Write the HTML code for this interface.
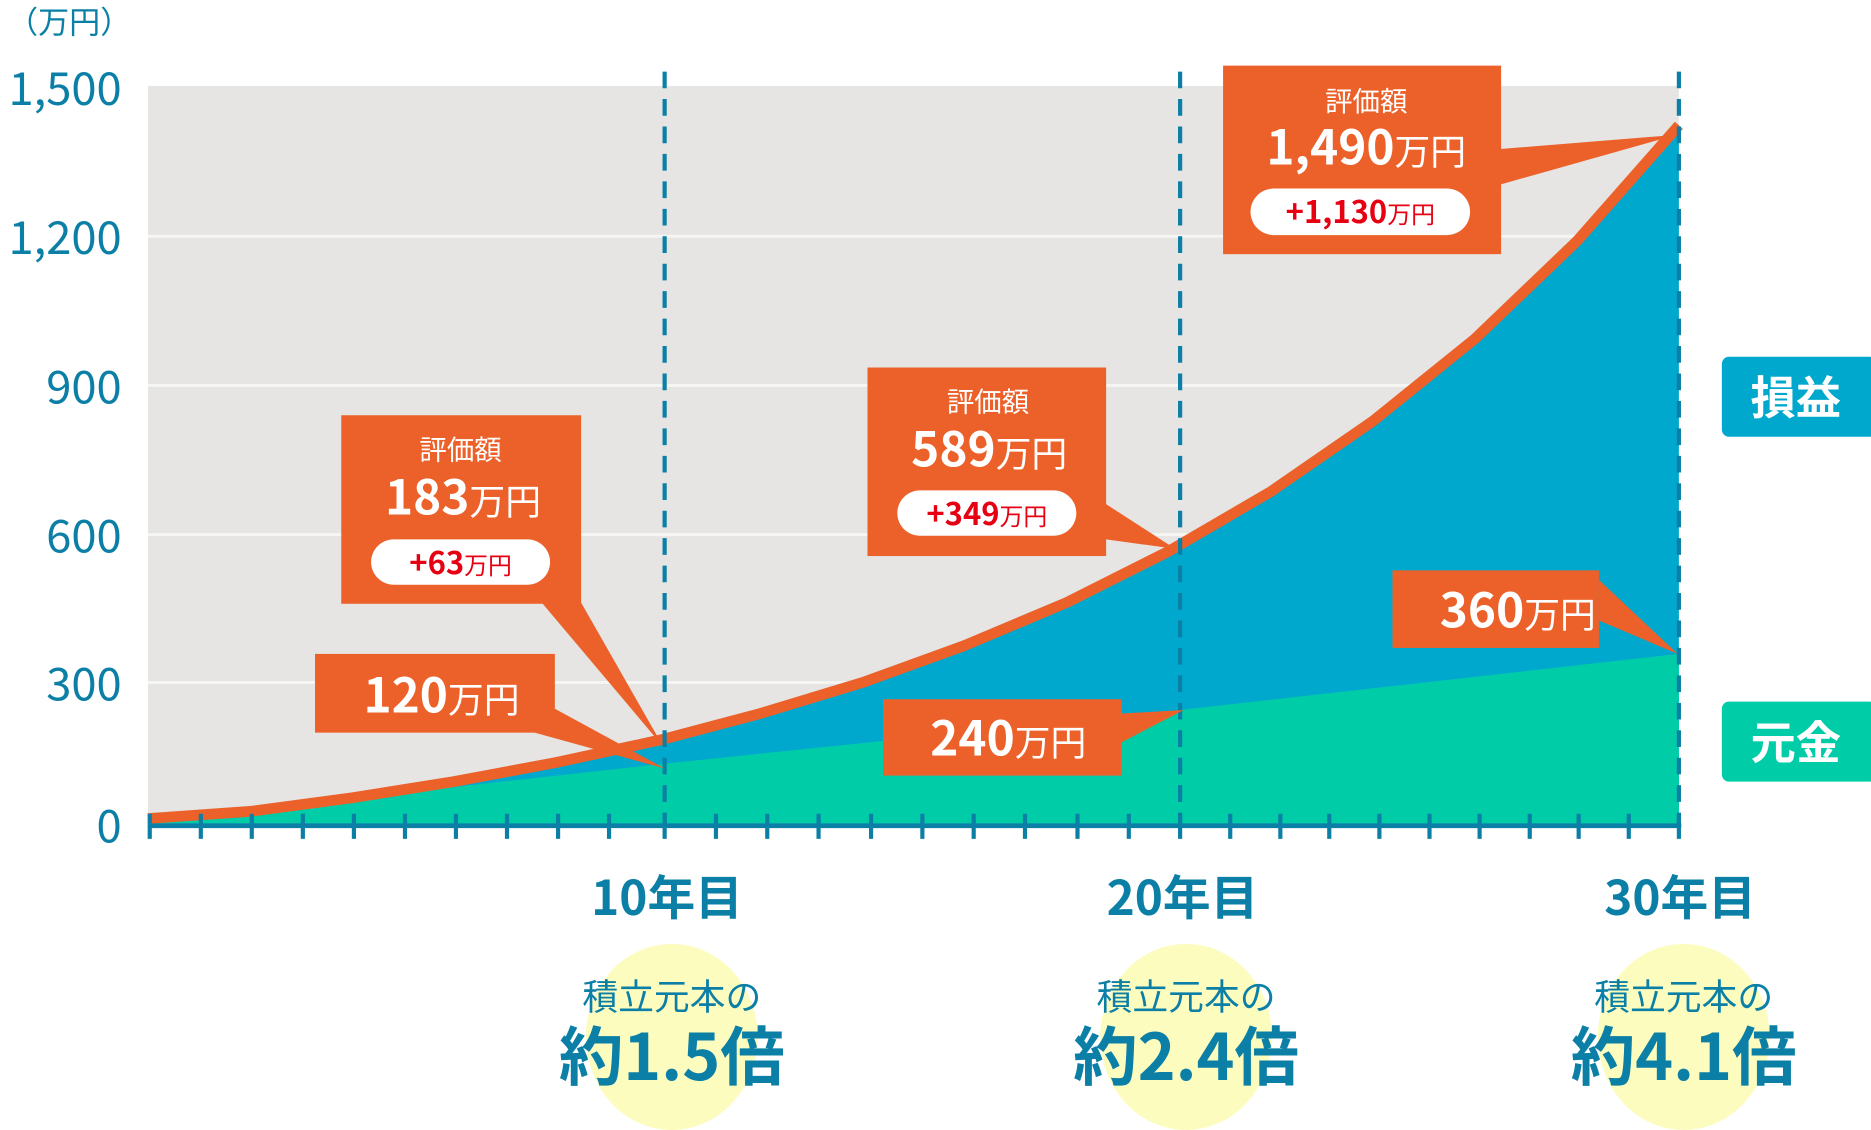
<!DOCTYPE html>
<html><head><meta charset="utf-8"><style>
html,body{margin:0;padding:0;background:#fff;}
svg{display:block;}
text{font-family:"Noto Sans CJK JP","Liberation Sans",sans-serif;}
</style></head><body>
<svg width="1871" height="1130" viewBox="0 0 1568 947" preserveAspectRatio="none" xmlns="http://www.w3.org/2000/svg">
<rect x="124" y="72" width="1283" height="618" fill="#e6e5e4"/>
<g stroke="#f5f5f4" stroke-width="2.5">
<line x1="124" y1="198" x2="1407" y2="198"/>
<line x1="124" y1="323" x2="1407" y2="323"/>
<line x1="124" y1="448" x2="1407" y2="448"/>
<line x1="124" y1="572" x2="1407" y2="572"/>
</g>
<g fill="#0b7fa5" font-size="38" text-anchor="end">
<text x="102" y="88">1,500</text>
<text x="102" y="213">1,200</text>
<text x="102" y="338">900</text>
<text x="102" y="463">600</text>
<text x="102" y="587">300</text>
<text x="102" y="706">0</text>
</g>
<text x="6" y="28" fill="#0b7fa5" font-size="26">（万円）</text>
<polygon fill="#00a8ce" points="124,690 124,686 209.5,680 295,668.6 380.6,655 466,639 554,620 637,598 722.8,572 808.3,541 893.9,505 979.4,462 1065,412 1150.5,353 1236,284 1321.6,202 1407,105 1407,690"/>
<polygon fill="#00cda7" points="124,690 124,688 557,640 989,595 1407,548 1407,690"/>
<polyline fill="none" stroke="#ec6129" stroke-width="9" stroke-linejoin="round" points="124,686 209.5,680 295,668.6 380.6,655 466,639 554,620 637,598 722.8,572 808.3,541 893.9,505 979.4,462 1065,412 1150.5,353 1236,284 1321.6,202 1407,105"/>
<g stroke="#0b7fa5" stroke-width="3.5" stroke-dasharray="14,9">
<line x1="557" y1="60" x2="557" y2="690"/>
<line x1="989" y1="60" x2="989" y2="690"/>
<line x1="1407" y1="60" x2="1407" y2="690"/>
</g>
<line x1="124" y1="692" x2="1409" y2="692" stroke="#0b7fa5" stroke-width="4"/>
<g stroke="#0b7fa5" stroke-width="3.5">
<line x1="125.5" y1="682" x2="125.5" y2="703"/><line x1="168.3" y1="682" x2="168.3" y2="703"/><line x1="211" y1="682" x2="211" y2="703"/><line x1="253.8" y1="682" x2="253.8" y2="703"/><line x1="296.6" y1="682" x2="296.6" y2="703"/><line x1="339.4" y1="682" x2="339.4" y2="703"/><line x1="382.1" y1="682" x2="382.1" y2="703"/><line x1="424.9" y1="682" x2="424.9" y2="703"/><line x1="467.7" y1="682" x2="467.7" y2="703"/><line x1="510.4" y1="682" x2="510.4" y2="703"/><line x1="557" y1="682" x2="557" y2="703"/><line x1="600" y1="682" x2="600" y2="703"/><line x1="643" y1="682" x2="643" y2="703"/><line x1="686" y1="682" x2="686" y2="703"/><line x1="730" y1="682" x2="730" y2="703"/><line x1="773" y1="682" x2="773" y2="703"/><line x1="816" y1="682" x2="816" y2="703"/><line x1="859" y1="682" x2="859" y2="703"/><line x1="903" y1="682" x2="903" y2="703"/><line x1="946" y1="682" x2="946" y2="703"/><line x1="989" y1="682" x2="989" y2="703"/><line x1="1031" y1="682" x2="1031" y2="703"/><line x1="1073" y1="682" x2="1073" y2="703"/><line x1="1114" y1="682" x2="1114" y2="703"/><line x1="1156" y1="682" x2="1156" y2="703"/><line x1="1198" y1="682" x2="1198" y2="703"/><line x1="1240" y1="682" x2="1240" y2="703"/><line x1="1282" y1="682" x2="1282" y2="703"/><line x1="1323" y1="682" x2="1323" y2="703"/><line x1="1365" y1="682" x2="1365" y2="703"/><line x1="1407" y1="682" x2="1407" y2="703"/>
</g>
<g fill="#ec6129">
<rect x="286" y="348" width="201" height="158"/>
<polygon points="454,505 487,505 556,626"/>
<rect x="264" y="548" width="201" height="66"/>
<polygon points="465,594 448,614 557,644"/>
<rect x="727" y="308" width="200" height="158"/>
<polygon points="920,418 927,452 985,460"/>
<rect x="740" y="586" width="200" height="64"/>
<polygon points="940,598 940,622 992,595"/>
<rect x="1025" y="55" width="233" height="158"/>
<polygon points="1256,125 1256,155 1405,113"/>
<rect x="1167" y="478" width="173" height="65"/>
<polygon points="1340,486 1340,520 1406,548"/>
</g>
<g fill="#fff">
<rect x="311" y="452" width="150" height="38" rx="19"/>
<rect x="752" y="411" width="150" height="38" rx="19"/>
<rect x="1048" y="158" width="184" height="39" rx="19.5"/>
</g>
<g fill="#fff" text-anchor="middle">
<text x="386" y="385" font-size="23">評価額</text>
<text x="388" y="431" font-size="40" font-weight="bold">183<tspan font-size="30" font-weight="normal">万円</tspan></text>
<text x="828" y="345" font-size="23">評価額</text>
<text x="829" y="391" font-size="40" font-weight="bold">589<tspan font-size="30" font-weight="normal">万円</tspan></text>
<text x="1145" y="93" font-size="23">評価額</text>
<text x="1145" y="138" font-size="40" font-weight="bold">1,490<tspan font-size="30" font-weight="normal">万円</tspan></text>
<text x="370" y="597" font-size="40" font-weight="bold">120<tspan font-size="30" font-weight="normal">万円</tspan></text>
<text x="845" y="633" font-size="40" font-weight="bold">240<tspan font-size="30" font-weight="normal">万円</tspan></text>
<text x="1272" y="526" font-size="40" font-weight="bold">360<tspan font-size="30" font-weight="normal">万円</tspan></text>
</g>
<g fill="#e60012" text-anchor="middle">
<text x="386" y="481" font-size="26" font-weight="bold">+63<tspan font-size="20" font-weight="normal">万円</tspan></text>
<text x="827" y="440" font-size="26" font-weight="bold">+349<tspan font-size="20" font-weight="normal">万円</tspan></text>
<text x="1140" y="187" font-size="26" font-weight="bold">+1,130<tspan font-size="20" font-weight="normal">万円</tspan></text>
</g>
<rect x="1443" y="299" width="130" height="67" rx="6" fill="#00a8ce"/>
<rect x="1443" y="588" width="130" height="67" rx="6" fill="#00cda7"/>
<g fill="#fff" font-size="38" font-weight="bold" text-anchor="middle">
<text x="1505" y="347">損益</text>
<text x="1505" y="636">元金</text>
</g>
<g fill="#fdfcbf">
<ellipse cx="563" cy="869" rx="72" ry="78"/>
<ellipse cx="994" cy="869" rx="72" ry="78"/>
<ellipse cx="1411" cy="869" rx="72" ry="78"/>
</g>
<g fill="#0b7fa5" text-anchor="middle">
<text x="559" y="767" font-size="40" font-weight="bold">10年目</text>
<text x="991" y="767" font-size="40" font-weight="bold">20年目</text>
<text x="1408" y="767" font-size="40" font-weight="bold">30年目</text>
<text x="563" y="846" font-size="30">積立元本の</text>
<text x="994" y="846" font-size="30">積立元本の</text>
<text x="1411" y="846" font-size="30">積立元本の</text>
<text x="563" y="905" font-size="54" font-weight="bold">約1.5倍</text>
<text x="994" y="905" font-size="54" font-weight="bold">約2.4倍</text>
<text x="1411" y="905" font-size="54" font-weight="bold">約4.1倍</text>
</g>
</svg>
</body></html>
